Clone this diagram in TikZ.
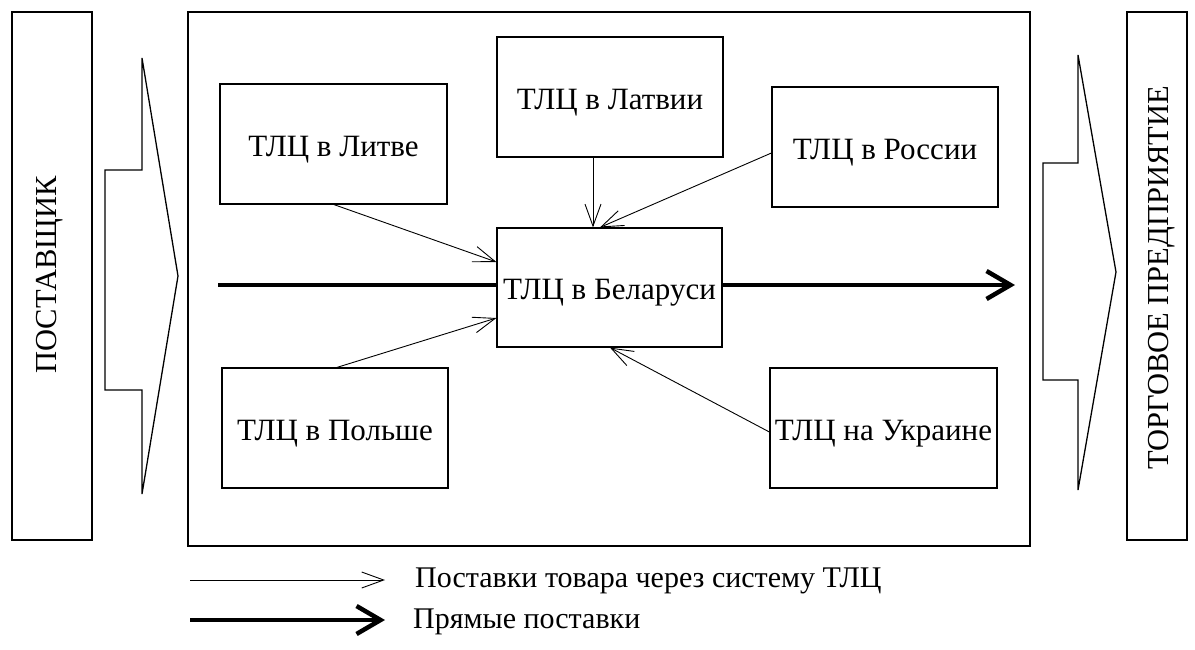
\documentclass[tikz,border=0pt]{standalone}
\usepackage{fontspec}
\setmainfont{Liberation Serif}
\usetikzlibrary{arrows.meta}
\tikzset{
  frame/.style={draw, line width=1.3pt, fill=white},
  tlc/.style={draw, line width=1.2pt, fill=white, inner sep=0pt,
    text height=30pt, text depth=6pt,
    minimum width=226pt, minimum height=120pt, font=\fontsize{31}{34}\selectfont},
  thin flow/.style={line width=0.9pt, -{Straight Barb[length=22pt,width=16pt,line width=0.9pt]}},
  direct flow/.style={line width=4.5pt, -{Straight Barb[length=24pt,width=28pt]}},
  bigarrow/.style={draw, line width=1.3pt, line join=miter},
  lbl/.style={font=\fontsize{30.5}{34}\selectfont, inner sep=0pt},
  legend/.style={font=\fontsize{30}{34}\selectfont, inner sep=0pt, anchor=west},
}
\begin{document}
\begin{tikzpicture}[x=1pt,y=-1pt]
\useasboundingbox (0,0) rectangle (1195,649);
\fill[white] (0,0) rectangle (1195,649);

% supplier and retailer columns
\draw[frame] (12,12) rectangle (92,540);
\node[lbl, rotate=90] (sup) at (50,275) {ПОСТАВЩИК};
\draw[frame] (1127,12) rectangle (1187,540);
\node[lbl, rotate=90] (ret) at (1162,278) {ТОРГОВОЕ ПРЕДПРИЯТИЕ};

% central frame
\draw[frame] (188,12) rectangle (1030,546);

% block arrows between the columns
\draw[bigarrow] (142,58) -- (178,276) -- (142,494) -- (142,390) -- (105,390) -- (105,170) -- (142,170) -- cycle;
\draw[bigarrow] (1078,55) -- (1116,272) -- (1078,490) -- (1078,380) -- (1043,380) -- (1043,163) -- (1078,163) -- cycle;

% direct supply line (passes behind the Belarus centre)
\coordinate (dstart) at (218,285);
\coordinate (dend) at (1015,285);
\draw[direct flow] (dstart) -- (dend);

% logistics centres
\node[tlc, minimum width=227pt] (lt) at (333.5,144) {ТЛЦ в Литве};
\node[tlc] (lv) at (610,97) {ТЛЦ в Латвии};
\node[tlc] (ru) at (885,147) {ТЛЦ в России};
\node[tlc, minimum width=225pt, minimum height=119pt] (by) at (609.5,287.5) {ТЛЦ в Беларуси};
\node[tlc] (pl) at (335,428) {ТЛЦ в Польше};
\node[tlc, minimum width=227pt] (ua) at (883.5,428) {ТЛЦ на Украине};

% flows through the logistics system
\draw[thin flow] (lt.south -| 334,0) -- (by.west |- 0,262);
\draw[thin flow] (pl.north -| 337,0) -- (by.west |- 0,318);
\draw[thin flow] (lv.south -| 593,0) -- (by.north -| 593,0);
\draw[thin flow] (ru.west |- 0,153) -- (by.north -| 600,0);
\draw[thin flow] (ua.west |- 0,432) -- (by.south -| 610,0);

% legend
\coordinate (l1a) at (190,580);
\coordinate (l1b) at (385,580);
\coordinate (l2a) at (190,620);
\coordinate (l2b) at (385,620);
\draw[thin flow] (l1a) -- (l1b);
\draw[direct flow] (l2a) -- (l2b);
\node[legend] (t1) at (415,581) {Поставки товара через систему ТЛЦ};
\node[legend] (t2) at (413,622) {Прямые поставки};
\end{tikzpicture}
\end{document}
